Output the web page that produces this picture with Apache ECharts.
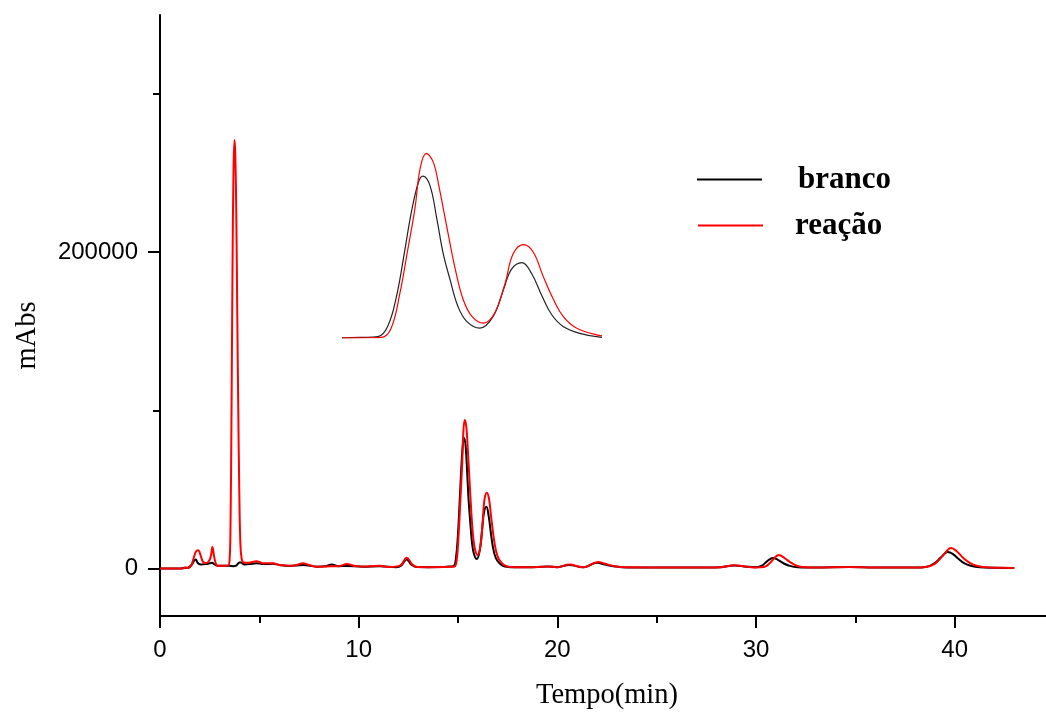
<!DOCTYPE html>
<html>
<head>
<meta charset="utf-8">
<title>Cromatograma</title>
<script src="https://cdn.jsdelivr.net/npm/echarts@6/dist/echarts.min.js"></script>
<style>
  html, body { margin: 0; padding: 0; background: #fff; }
  #chart { width: 1046px; height: 712px; }
</style>
</head>
<body>
<div id="chart"></div>
<script>
// Retention time (min) and absorbance (mAbs) for each run
const brancoTempo = [0, 1.0, 1.2, 1.4, 1.6, 1.72, 1.8, 1.9, 2.05, 2.3, 2.5, 2.62, 2.75, 2.9, 3.2, 3.5, 3.7, 3.85, 4.0, 4.08, 4.25, 4.5, 4.85, 5.2, 5.7, 6.0, 6.5, 7.2, 7.9, 8.3, 8.65, 9.0, 9.4, 10.2, 11.05, 11.9, 12.15, 12.42, 12.65, 12.9, 13.5, 14.3, 14.6, 14.79, 14.90, 15.00, 15.09, 15.17, 15.25, 15.30, 15.38, 15.46, 15.53, 15.61, 15.70, 15.80, 15.95, 16.10, 16.22, 16.31, 16.43, 16.54, 16.66, 16.77, 16.90, 17.09, 17.32, 17.6, 18.5, 19.5, 20.0, 20.6, 21.3, 22.0, 22.4, 22.9, 23.5, 25, 27, 28.2, 28.9, 29.5, 30.0, 30.3, 30.55, 30.85, 31.1, 31.4, 31.7, 32.1, 33, 34.7, 36, 38, 38.6, 39.0, 39.3, 39.65, 39.9, 40.2, 40.5, 40.8, 41.25, 42, 43];
const brancoAbs = [0, 0, 300, 500, 2500, 5000, 5800, 3500, 2600, 2800, 3300, 3600, 2600, 1800, 1800, 1700, 1500, 2000, 3900, 3800, 2600, 2800, 3400, 2800, 3000, 2300, 1600, 2200, 1200, 1400, 2500, 1500, 1600, 1200, 1500, 900, 2000, 5800, 2500, 1000, 900, 1000, 1300, 1700, 6900, 22000, 44000, 64500, 79500, 82600, 78000, 61000, 44000, 30500, 17000, 9400, 6000, 11800, 25400, 35600, 39000, 33500, 22000, 12700, 6800, 3300, 1400, 900, 800, 1300, 900, 2300, 800, 3600, 2500, 1300, 700, 700, 700, 900, 2000, 1200, 800, 1800, 4500, 6700, 5500, 3200, 1700, 800, 600, 1000, 600, 600, 1200, 3500, 7000, 10500, 9300, 6000, 3200, 1800, 800, 500, 400];

const reacaoTempo = [0, 1.0, 1.2, 1.28, 1.38, 1.55, 1.68, 1.8, 1.92, 2.04, 2.18, 2.35, 2.5, 2.57, 2.64, 2.72, 2.8, 2.9, 3.2, 3.42, 3.50, 3.55, 3.60, 3.65, 3.70, 3.75, 3.79, 3.84, 3.89, 3.94, 3.99, 4.04, 4.10, 4.2, 4.45, 4.85, 5.2, 5.7, 6.0, 6.5, 6.9, 7.2, 7.5, 7.9, 8.6, 9.0, 9.4, 9.8, 10.2, 11.05, 11.6, 12.1, 12.42, 12.7, 12.95, 13.5, 14.3, 14.6, 14.83, 14.94, 15.04, 15.13, 15.21, 15.27, 15.34, 15.42, 15.49, 15.57, 15.67, 15.76, 15.86, 15.99, 16.12, 16.24, 16.33, 16.45, 16.56, 16.67, 16.79, 16.90, 17.05, 17.28, 17.5, 17.8, 18.5, 19.5, 20.0, 20.6, 21.3, 22.05, 22.4, 22.9, 23.5, 25, 27, 28.2, 28.9, 29.5, 30.0, 30.4, 30.7, 30.95, 31.15, 31.45, 31.75, 32.05, 32.45, 33, 34.7, 36, 38, 38.55, 39.0, 39.4, 39.82, 40.1, 40.45, 40.8, 41.1, 41.6, 42.3, 43];
const reacaoAbs = [0, 0, 200, 900, 300, 1500, 6000, 10500, 11500, 8500, 4000, 3500, 5500, 8500, 13600, 8000, 3500, 1800, 1700, 1800, 5000, 28000, 100000, 190000, 252000, 271000, 262000, 225000, 160000, 100000, 50000, 18000, 7000, 3800, 3600, 4600, 3400, 3300, 2200, 1700, 2300, 3400, 2300, 1100, 1400, 1500, 2800, 1600, 1300, 1700, 1000, 2000, 6900, 2500, 1000, 900, 1000, 1100, 1300, 6000, 23800, 45900, 66200, 86600, 94000, 89500, 76000, 57800, 35700, 20400, 11900, 8500, 13600, 28900, 43400, 48000, 44200, 32300, 20400, 11900, 6000, 2600, 1300, 900, 800, 1300, 900, 2500, 800, 4200, 3000, 1500, 800, 700, 700, 900, 2100, 1300, 700, 1000, 3500, 7000, 8600, 6500, 3800, 1800, 800, 600, 1000, 600, 600, 1000, 3000, 8000, 13000, 11000, 6500, 3200, 1800, 800, 500, 400];

// Axis tick positions
const xLabelTicks = [0, 10, 20, 30, 40];
const xMinorTicks = [5, 15, 25, 35];
const yLabelTicks = [0, 200000];
const yMinorTicks = [100000, 300000];

const zip = (t, v) => t.map((x, i) => [x, v[i]]);
const branco = zip(brancoTempo, brancoAbs);
const reacao = zip(reacaoTempo, reacaoAbs);

const sans = '"Liberation Sans", Arial, sans-serif';
const serif = '"Liberation Serif", "Times New Roman", serif';
const plain = v => String(v);

const chart = echarts.init(document.getElementById('chart'), null, { renderer: 'canvas' });

chart.setOption({
  animation: false,
  backgroundColor: '#ffffff',
  grid: [
    { left: 160, right: -8, top: 15, bottom: 96, containLabel: false, outerBoundsMode: 'none' },
    // enlarged view of the 15-17 min pair
    { left: 343, width: 257, top: 130, height: 208, containLabel: false, outerBoundsMode: 'none' }
  ],
  legend: [
    {
      data: ['branco'], left: 697, top: 164, orient: 'vertical', padding: 0,
      icon: 'rect', itemWidth: 65, itemHeight: 2, selectedMode: false,
      textStyle: { fontFamily: serif, fontWeight: 'bold', fontSize: 31, color: '#000', padding: [0, 0, 0, 31] }
    },
    {
      data: ['reação'], left: 698, top: 210, orient: 'vertical', padding: 0,
      icon: 'rect', itemWidth: 65, itemHeight: 2, selectedMode: false,
      textStyle: { fontFamily: serif, fontWeight: 'bold', fontSize: 31, color: '#000', padding: [0, 0, 0, 27] }
    }
  ],
  xAxis: [
    {
      gridIndex: 0, type: 'value', min: 0, max: 45,
      axisLine: { show: true, onZero: false, lineStyle: { color: '#000', width: 2 } },
      axisTick: { show: true, length: 12, customValues: xLabelTicks, lineStyle: { color: '#000', width: 2 } },
      axisLabel: { customValues: xLabelTicks, formatter: plain, fontFamily: sans, fontSize: 24, color: '#000', margin: 22 },
      splitLine: { show: false },
      name: 'Tempo(min)', nameLocation: 'middle', nameGap: 65,
      nameTextStyle: { fontFamily: serif, fontSize: 28.5, color: '#000' }
    },
    {
      gridIndex: 0, type: 'value', min: 0, max: 45, position: 'bottom',
      axisLine: { show: false, onZero: false },
      axisTick: { show: true, length: 7, customValues: xMinorTicks, lineStyle: { color: '#000', width: 2 } },
      axisLabel: { show: false },
      splitLine: { show: false }
    },
    {
      gridIndex: 1, type: 'value', min: 14.39, max: 17.32, show: false
    }
  ],
  yAxis: [
    {
      gridIndex: 0, type: 'value', min: -30000, max: 350000, position: 'left',
      axisLine: { show: true, onZero: false, lineStyle: { color: '#000', width: 2 } },
      axisTick: { show: true, length: 12, customValues: yLabelTicks, lineStyle: { color: '#000', width: 2 } },
      axisLabel: { customValues: yLabelTicks, formatter: plain, fontFamily: sans, fontSize: 24, color: '#000', margin: 22 },
      splitLine: { show: false },
      name: 'mAbs', nameLocation: 'middle', nameGap: 118, nameRotate: 90,
      nameTextStyle: { fontFamily: serif, fontSize: 28.5, color: '#000', padding: [0, 40, 0, 0] }
    },
    {
      gridIndex: 0, type: 'value', min: -30000, max: 350000, position: 'left',
      axisLine: { show: false, onZero: false },
      axisTick: { show: true, length: 7, customValues: yMinorTicks, lineStyle: { color: '#000', width: 2 } },
      axisLabel: { show: false },
      splitLine: { show: false }
    },
    {
      gridIndex: 1, type: 'value', min: 1000, max: 105800, show: false
    }
  ],
  series: [
    {
      name: 'branco', type: 'line', xAxisIndex: 0, yAxisIndex: 0, data: branco,
      color: '#000000', showSymbol: false, smooth: 0.4,
      lineStyle: { color: '#000000', width: 2 }, z: 2
    },
    {
      name: 'reação', type: 'line', xAxisIndex: 0, yAxisIndex: 0, data: reacao,
      color: '#ff0000', showSymbol: false, smooth: 0.4,
      lineStyle: { color: '#ff0000', width: 2 }, z: 3
    },
    {
      name: 'branco ampliado', type: 'line', xAxisIndex: 2, yAxisIndex: 2, data: branco,
      color: '#000000', showSymbol: false, smooth: 0.4, clip: true,
      lineStyle: { color: '#222222', width: 1.2 }, z: 2
    },
    {
      name: 'reação ampliado', type: 'line', xAxisIndex: 2, yAxisIndex: 2, data: reacao,
      color: '#ff0000', showSymbol: false, smooth: 0.4, clip: true,
      lineStyle: { color: '#ff0000', width: 1.2 }, z: 3
    }
  ]
});
</script>
</body>
</html>
